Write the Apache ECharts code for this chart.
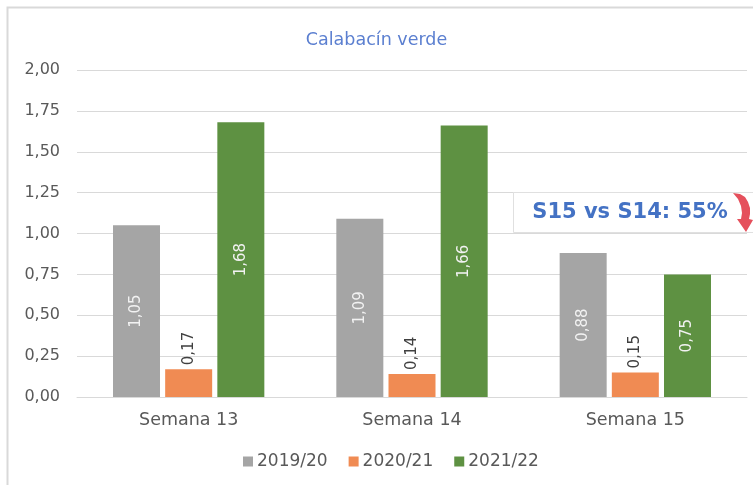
<!DOCTYPE html>
<html><head><meta charset="utf-8">
<script src="https://cdn.jsdelivr.net/npm/echarts@6/dist/echarts.min.js"></script>
<style>html,body{margin:0;padding:0;background:#fff}#c{width:753px;height:485px}</style>
</head><body><div id="c"></div>
<script>
const categories = ['Semana 13', 'Semana 14', 'Semana 15'];
const seriesNames = ['2019/20', '2020/21', '2021/22'];
const s2019 = [1.05, 1.09, 0.88];
const s2020 = [0.17, 0.14, 0.15];
const s2021 = [1.68, 1.66, 0.75];
const yTicks = [0, 0.25, 0.5, 0.75, 1, 1.25, 1.5, 1.75, 2];
const titleText = 'Calabacín verde';
const noteText = 'S15 vs S14: 55%';

const FONT = '"DejaVu Sans", sans-serif';
const fmt = v => v.toFixed(2).replace('.', ',');
const chart = echarts.init(document.getElementById('c'));
const inLabel = {
  show: true, position: 'inside', rotate: 90, color: '#f2f2f2',
  fontFamily: FONT, fontSize: 15, formatter: p => fmt(p.value)
};
chart.setOption({
  animation: false,
  title: { text: titleText, left: 'center', top: 26,
    textStyle: { color: '#5b7fd0', fontFamily: FONT, fontSize: 17.5, fontWeight: 'normal' } },
  grid: { left: 77, right: 6, top: 70, bottom: 88 },
  legend: {
    bottom: 10, left: 238, itemWidth: 10, itemHeight: 10, itemGap: 21,
    icon: 'rect', data: seriesNames,
    textStyle: { color: '#595959', fontFamily: FONT, fontSize: 17, padding: [0, 0, 0, -1] }
  },
  xAxis: {
    type: 'category', data: categories,
    axisLine: { lineStyle: { color: '#d9d9d9' } }, axisTick: { show: false },
    axisLabel: { color: '#595959', fontFamily: FONT, fontSize: 17.5, margin: 14 }
  },
  yAxis: {
    type: 'value', min: yTicks[0], max: yTicks[yTicks.length - 1], interval: 0.25,
    axisLine: { show: false }, axisTick: { show: false },
    splitLine: { lineStyle: { color: '#d9d9d9', width: 1 } },
    axisLabel: { color: '#595959', fontFamily: FONT, fontSize: 16, margin: 17, formatter: v => fmt(v) }
  },
  series: [
    { name: seriesNames[0], type: 'bar', data: s2019, barWidth: 47, barGap: '11%',
      itemStyle: { color: '#a5a5a5' }, label: inLabel },
    { name: seriesNames[1], type: 'bar', data: s2020, barWidth: 47,
      itemStyle: { color: '#f08b53' },
      label: { show: true, position: 'top', rotate: 90, align: 'left', verticalAlign: 'middle',
        distance: 4, color: '#404040', fontFamily: FONT, fontSize: 15, formatter: p => fmt(p.value) } },
    { name: seriesNames[2], type: 'bar', data: s2021, barWidth: 47,
      itemStyle: { color: '#5e9142' }, label: inLabel }
  ],
  graphic: [
    { type: 'rect', shape: { x: 7.5, y: 7.5, width: 760, height: 490 },
      style: { fill: 'none', stroke: '#d9d9d9', lineWidth: 2 }, silent: true, z: 0 },
    { type: 'rect', shape: { x: 513.5, y: 192.5, width: 240, height: 40 },
      style: { fill: '#fff', stroke: '#e0e0e0', lineWidth: 1 }, z: 100 },
    { type: 'text', x: 630, y: 213, z: 101,
      style: { text: noteText, fill: '#4472c4', font: 'bold 21px ' + FONT,
        textAlign: 'center', textVerticalAlign: 'middle' } },
    { type: 'polygon', z: 102,
      shape: { points: [[733,193],[740,194],[745,197],[748,202],[750,208],[750,214],[749,219],[753,220],[746,232],[737,219],[741,219],[742,213],[741,206],[738,199]] },
      style: { fill: '#e5505c' } }
  ]
});
</script></body></html>
